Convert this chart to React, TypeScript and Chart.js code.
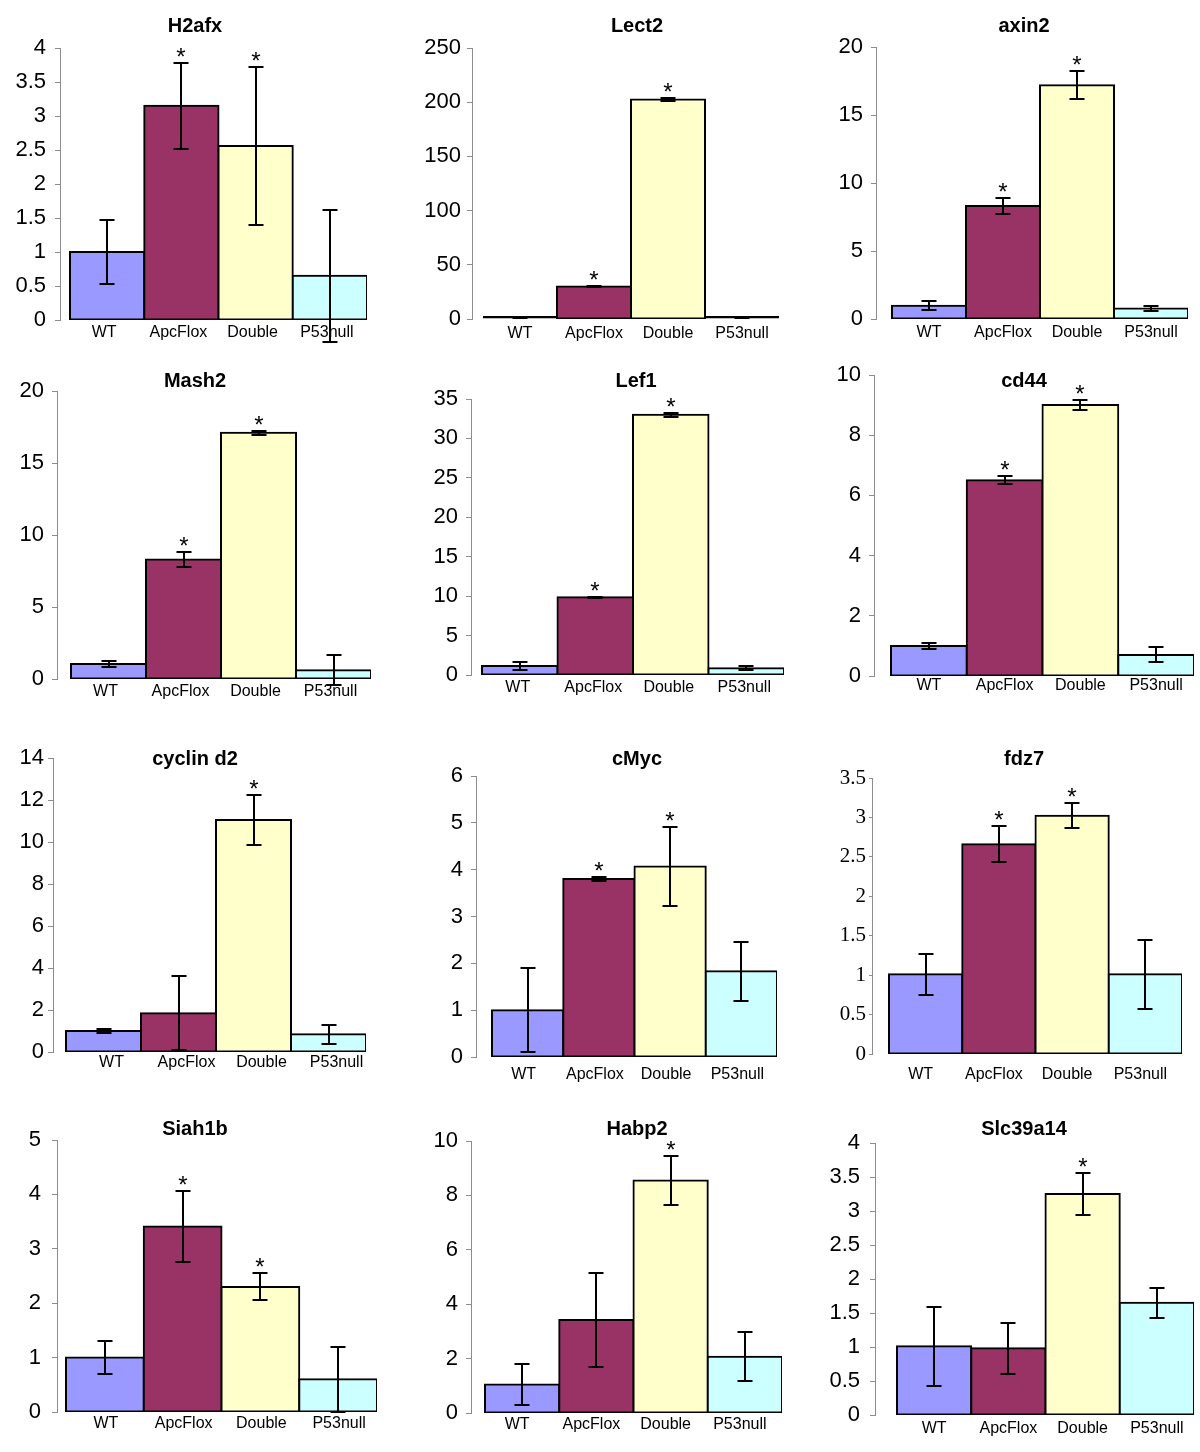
import React, { useEffect, useRef } from 'react';
import { Chart, registerables } from 'chart.js';

Chart.register(...registerables);

// ---------- data ----------
const categories = ['WT', 'ApcFlox', 'Double', 'P53null'];
const barColors = ['#9999FF', '#993366', '#FFFFCC', '#CCFFFF'];

const h2afxMean = [1.0, 3.15, 2.56, 0.65];
const h2afxErr = [0.47, 0.63, 1.16, 0.97];
const h2afxStar = [false, true, true, false];

const lect2Mean = [1, 30, 202.5, 1];
const lect2Err = [0.3, 0.4, 1.0, 0.3];
const lect2Star = [false, true, true, false];

const axin2Mean = [0.98, 8.3, 17.18, 0.78];
const axin2Err = [0.34, 0.57, 1.03, 0.18];
const axin2Star = [false, true, true, false];

const mash2Mean = [1.05, 8.3, 17.1, 0.6];
const mash2Err = [0.2, 0.52, 0.15, 1.05];
const mash2Star = [false, true, true, false];

const lef1Mean = [1.15, 9.85, 33.0, 0.85];
const lef1Err = [0.55, 0.1, 0.25, 0.25];
const lef1Star = [false, true, true, false];

const cd44Mean = [1.0, 6.5, 9.0, 0.7];
const cd44Err = [0.1, 0.13, 0.17, 0.25];
const cd44Star = [false, true, true, false];

const cyclinD2Mean = [1.0, 1.85, 11.05, 0.84];
const cyclinD2Err = [0.08, 1.75, 1.18, 0.45];
const cyclinD2Star = [false, false, true, false];

const cMycMean = [1.0, 3.8, 4.07, 1.83];
const cMycErr = [0.9, 0.05, 0.85, 0.63];
const cMycStar = [false, true, true, false];

const fdz7Mean = [1.01, 2.66, 3.02, 1.01];
const fdz7Err = [0.26, 0.23, 0.16, 0.44];
const fdz7Star = [false, true, true, false];

const siah1bMean = [1.0, 3.41, 2.3, 0.6];
const siah1bErr = [0.3, 0.65, 0.25, 0.6];
const siah1bStar = [false, true, true, false];

const habp2Mean = [1.05, 3.42, 8.55, 2.07];
const habp2Err = [0.75, 1.72, 0.9, 0.91];
const habp2Star = [false, false, true, false];

const slc39a14Mean = [1.01, 0.98, 3.25, 1.65];
const slc39a14Err = [0.58, 0.37, 0.31, 0.22];
const slc39a14Star = [false, false, true, false];

const geneTitles = ['H2afx', 'Lect2', 'axin2', 'Mash2', 'Lef1', 'cd44', 'cyclin d2', 'cMyc', 'fdz7', 'Siah1b', 'Habp2', 'Slc39a14'];
const yMaxima = [4, 250, 20, 20, 35, 10, 14, 6, 3.5, 5, 10, 4];
const yStepSizes = [0.5, 50, 5, 5, 5, 2, 2, 1, 0.5, 1, 2, 0.5];

const panelData = [
  [h2afxMean, h2afxErr, h2afxStar],
  [lect2Mean, lect2Err, lect2Star],
  [axin2Mean, axin2Err, axin2Star],
  [mash2Mean, mash2Err, mash2Star],
  [lef1Mean, lef1Err, lef1Star],
  [cd44Mean, cd44Err, cd44Star],
  [cyclinD2Mean, cyclinD2Err, cyclinD2Star],
  [cMycMean, cMycErr, cMycStar],
  [fdz7Mean, fdz7Err, fdz7Star],
  [siah1bMean, siah1bErr, siah1bStar],
  [habp2Mean, habp2Err, habp2Star],
  [slc39a14Mean, slc39a14Err, slc39a14Star],
];

// ---------- layout (absolute page pixels) ----------
type Layout = {
  cx: number; cy: number; ch: number;
  axisX: number; top: number; bottom: number; barL: number; barR: number;
  titleX: number; titleY: number; yPad: number; tickLen: number; xPad: number; labelOffset: number; serif?: boolean;
};
const layouts: Layout[] = [
  { cx: 0, cy: 0, ch: 350, axisX: 60, top: 48, bottom: 320, barL: 70, barR: 367, titleX: 195, titleY: 32, yPad: 9, tickLen: 5, xPad: 3, labelOffset: -3 },
  { cx: 400, cy: 0, ch: 350, axisX: 472, top: 48, bottom: 319, barL: 483, barR: 779, titleX: 637, titleY: 32, yPad: 6, tickLen: 5, xPad: 5, labelOffset: 0 },
  { cx: 800, cy: 0, ch: 350, axisX: 876, top: 47, bottom: 319, barL: 892, barR: 1188, titleX: 1024, titleY: 32, yPad: 8, tickLen: 5, xPad: 4, labelOffset: 0 },
  { cx: 0, cy: 350, ch: 365, axisX: 57, top: 391, bottom: 679, barL: 71, barR: 371, titleX: 195, titleY: 387, yPad: 8, tickLen: 5, xPad: 3, labelOffset: -3 },
  { cx: 400, cy: 350, ch: 365, axisX: 471, top: 399, bottom: 675, barL: 482, barR: 784, titleX: 636, titleY: 387, yPad: 8, tickLen: 5, xPad: 3, labelOffset: -2 },
  { cx: 800, cy: 350, ch: 365, axisX: 874, top: 375, bottom: 676, barL: 891, barR: 1194, titleX: 1024, titleY: 387, yPad: 8, tickLen: 5, xPad: 0, labelOffset: 0 },
  { cx: 0, cy: 715, ch: 370, axisX: 53, top: 758, bottom: 1052, barL: 66, barR: 366, titleX: 195, titleY: 765, yPad: 4, tickLen: 5, xPad: 1, labelOffset: 8 },
  { cx: 400, cy: 715, ch: 370, axisX: 476, top: 776, bottom: 1057, barL: 492, barR: 777, titleX: 637, titleY: 765, yPad: 8, tickLen: 5, xPad: 8, labelOffset: -4 },
  { cx: 800, cy: 715, ch: 370, axisX: 872, top: 778, bottom: 1054, barL: 889, barR: 1182, titleX: 1024, titleY: 765, yPad: 3, tickLen: 3, xPad: 11, labelOffset: -5, serif: true },
  { cx: 0, cy: 1085, ch: 367, axisX: 57, top: 1140, bottom: 1412, barL: 66, barR: 377, titleX: 195, titleY: 1135, yPad: 11, tickLen: 5, xPad: 2, labelOffset: 1 },
  { cx: 400, cy: 1085, ch: 367, axisX: 471, top: 1141, bottom: 1413, barL: 485, barR: 782, titleX: 637, titleY: 1135, yPad: 8, tickLen: 5, xPad: 2, labelOffset: -5 },
  { cx: 800, cy: 1085, ch: 367, axisX: 875, top: 1143, bottom: 1415, barL: 897, barR: 1194, titleX: 1024, titleY: 1135, yPad: 10, tickLen: 5, xPad: 4, labelOffset: 0 },
];

const SANS = '"Liberation Sans", Arial, sans-serif';
const SERIF = '"Liberation Serif", "Times New Roman", serif';
const CANVAS_W = 400;

function Panel({ index }: { index: number }) {
  const ref = useRef<HTMLCanvasElement | null>(null);
  const L = layouts[index];
  useEffect(() => {
    if (!ref.current) return;
    const [mean, err, star] = panelData[index] as [number[], number[], boolean[]];
    const title = geneTitles[index];
    const barW = (L.barR - L.barL) / categories.length;
    const xMin = -0.5 - (L.barL - L.axisX) / barW;

    const overlay = {
      id: 'overlay' + index,
      afterDatasetsDraw(chart: any) {
        const ctx = chart.ctx as CanvasRenderingContext2D;
        const meta = chart.getDatasetMeta(0);
        const ys = chart.scales.y;
        ctx.save();
        ctx.strokeStyle = '#000';
        ctx.fillStyle = '#000';
        ctx.lineWidth = 2;
        meta.data.forEach((bar: any, i: number) => {
          const x = Math.round(bar.x);
          const hi = Math.round(ys.getPixelForValue(mean[i] + err[i]));
          const lo = Math.round(ys.getPixelForValue(mean[i] - err[i]));
          ctx.beginPath();
          ctx.moveTo(x, hi);
          ctx.lineTo(x, lo);
          ctx.moveTo(x - 7.5, hi);
          ctx.lineTo(x + 7.5, hi);
          ctx.moveTo(x - 7.5, lo);
          ctx.lineTo(x + 7.5, lo);
          ctx.stroke();
          if (star[i]) {
            const topY = Math.min(hi, bar.y);
            ctx.font = '24px ' + SANS;
            ctx.textAlign = 'center';
            ctx.textBaseline = 'alphabetic';
            ctx.fillText('*', x, topY + 2);
          }
        });
        ctx.font = 'bold 20px ' + SANS;
        ctx.textAlign = 'center';
        ctx.textBaseline = 'alphabetic';
        ctx.fillText(title, L.titleX - L.cx, L.titleY - L.cy);
        ctx.restore();
      },
    };

    const chart = new Chart(ref.current, {
      type: 'bar',
      data: {
        datasets: [
          {
            data: mean.map((v, i) => ({ x: i, y: v })),
            backgroundColor: barColors,
            borderColor: '#000',
            borderWidth: 2,
            borderSkipped: false,
            minBarLength: 3,
            inflateAmount: (c: any) => {
              const ys = c.chart.scales.y;
              if (!ys || c.parsed == null) return 1;
              const h = Math.abs(ys.getPixelForValue(0) - ys.getPixelForValue(c.parsed.y));
              return h < 5 ? 0 : 1;
            },
            barPercentage: 1,
            categoryPercentage: 1,
          } as any,
        ],
      },
      options: {
        animation: false,
        responsive: false,
        devicePixelRatio: 1,
        layout: {
          padding: { left: 0, top: L.top - L.cy, right: L.cx + CANVAS_W - L.barR, bottom: 0 },
        },
        plugins: { legend: { display: false }, tooltip: { enabled: false }, title: { display: false } },
        scales: {
          x: {
            type: 'linear',
            offset: false,
            min: xMin,
            max: categories.length - 0.5,
            grid: { display: false, drawTicks: false, tickLength: 0, offset: false },
            border: { display: false },
            afterBuildTicks: (s: any) => {
              s.ticks = categories.map((_, i) => ({ value: i }));
            },
            afterFit: (s: any) => {
              s.height = L.cy + L.ch - L.bottom;
            },
            ticks: {
              autoSkip: false,
              maxRotation: 0,
              minRotation: 0,
              padding: L.xPad,
              labelOffset: L.labelOffset,
              color: '#000',
              font: { family: SANS, size: 16 },
              callback: (v: any) => categories[v as number] ?? '',
            },
          } as any,
          y: {
            min: 0,
            max: yMaxima[index],
            grid: { display: true, drawOnChartArea: false, drawTicks: true, tickLength: L.tickLen, color: '#8c8c8c', lineWidth: 1 },
            border: { display: true, color: '#8c8c8c', width: 1 },
            afterFit: (s: any) => {
              s.width = L.axisX - L.cx;
            },
            ticks: {
              stepSize: yStepSizes[index],
              padding: L.yPad,
              color: '#000',
              font: L.serif ? { family: SERIF, size: 21 } : { family: SANS, size: 22 },
              callback: (v: any) => String(v),
            },
          } as any,
        },
      } as any,
      plugins: [overlay],
    });
    return () => chart.destroy();
  }, [index]);

  return (
    <canvas
      ref={ref}
      width={CANVAS_W}
      height={L.ch}
      style={{ position: 'absolute', left: L.cx, top: L.cy, width: CANVAS_W, height: L.ch }}
    />
  );
}

export default function App() {
  return (
    <div style={{ position: 'absolute', left: 0, top: 0, width: 1200, height: 1452, background: '#fff', overflow: 'hidden' }}>
      {layouts.map((_, i) => (
        <Panel key={i} index={i} />
      ))}
    </div>
  );
}
